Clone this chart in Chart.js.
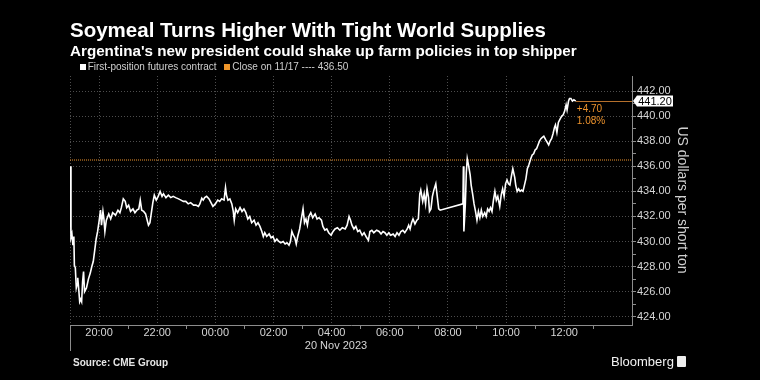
<!DOCTYPE html>
<html>
<head>
<meta charset="utf-8">
<script src="https://cdn.jsdelivr.net/npm/chart.js@4.4.0/dist/chart.umd.min.js"></script>
<style>
html,body{margin:0;padding:0;background:#000;}
#wrap{position:relative;width:760px;height:380px;background:#000;overflow:hidden;font-family:"Liberation Sans",Arial,sans-serif;}
#c{position:absolute;left:0;top:0;}
.t{position:absolute;white-space:nowrap;line-height:1;}
#title{left:70px;top:20px;font-weight:bold;font-size:20.5px;color:#fff;}
#subtitle{left:70px;top:42.6px;font-weight:bold;font-size:15.2px;color:#fff;}
.leg{top:62.3px;font-size:10px;color:#cfcfcf;}
.sq{position:absolute;width:6px;height:6px;top:64px;}
#source{left:73px;top:357.5px;font-size:10px;font-weight:bold;color:#e6e6e6;}
#bbg{left:611px;top:355px;font-size:13px;color:#f2f2f2;}
#logo{position:absolute;left:677px;top:356px;width:9px;height:11px;background:#eee;border-radius:1px;}
</style>
</head>
<body>
<div id="wrap">
<canvas id="c" width="760" height="380"></canvas>
<div class="t" id="title">Soymeal Turns Higher With Tight World Supplies</div>
<div class="t" id="subtitle">Argentina's new president could shake up farm policies in top shipper</div>
<div class="sq" style="left:80px;background:#fff;"></div>
<div class="t leg" style="left:87.7px;">First-position futures contract</div>
<div class="sq" style="left:224px;background:#f0962a;"></div>
<div class="t leg" style="left:232.3px;">Close on 11/17 ---- 436.50</div>
<div class="t" id="source">Source: CME Group</div>
<div class="t" id="bbg">Bloomberg</div>
<div id="logo"></div>
</div>
<script>
// minutes elapsed since 19:00 on 19 Nov 2023
const minutesFrom1900 = [
0,2,4,6,8,9,11,13,15,16,18,20,22,24,26,28,30,34,38,42,45,48,51,54,57,60,63,65,68,70,72,75,80,84,88,94,99,103,106,110,
114,117,121,125,130,134,138,142,145,148,152,156,160,162,165,168,171,174,178,182,186,190,193,198,203,208,213,218,224,229,
234,239,244,249,255,260,265,268,272,275,278,282,287,291,295,300,305,309,313,318,321,323,326,330,334,337,339,342,346,351,
355,359,363,367,371,375,380,384,388,392,396,399,402,406,411,415,419,423,427,431,435,440,444,448,452,455,458,461,464,467,
470,474,477,481,484,487,490,493,497,501,506,510,514,519,522,526,530,534,539,543,547,552,557,562,568,572,576,579,582,586,
590,594,598,603,607,611,616,619,623,627,633,638,642,646,650,654,658,662,667,671,675,679,683,687,691,696,699,702,705,708,
712,716,719,722,724,728,731,734,737,740,742,745,748,751,755,758,761,764,811,812,813,816,818,820,823,826,828,831,834,837,
840,843,846,849,852,856,859,862,865,868,871,874,877,880,883,887,890,893,896,899,902,905,908,911,914,918,920,923,926,929,
932,935,938,941,944,947,951,954,957,960,963,966,969,972,975,978,982,985,988,991,994,997,1000,1002,1005,1008,1012,1015,1018,1021,
1024,1026,1029,1031,1034,1037,1040,1044
];
const prices = [
436.0,430.3,430.6,429.7,430.4,428.1,427.9,426.3,426.6,427.1,426.2,425.2,425.4,425.2,426.8,427.6,426.0,426.3,427.0,427.5,428.0,428.4,429.3,430.2,430.8,431.6,432.5,431.3,432.4,431.8,430.8,431.7,432.2,431.8,432.3,432.1,432.5,432.3,432.7,433.4,
433.2,432.7,432.9,432.4,432.6,432.3,432.5,432.6,433.3,432.5,432.4,432.2,431.6,431.3,431.5,432.3,433.1,433.7,433.3,433.6,434.0,433.6,433.8,433.5,433.7,433.5,433.6,433.5,433.4,433.3,
433.2,433.2,433.0,433.1,432.9,432.9,432.8,433.0,433.45,433.3,433.5,433.6,433.4,433.1,432.8,433.0,433.3,433.2,433.4,433.3,434.3,433.7,433.3,433.4,433.0,432.4,431.7,432.6,432.3,432.7,
432.4,432.6,432.3,431.8,432.0,431.5,431.7,431.3,431.5,431.2,430.8,430.4,430.7,430.4,430.6,430.3,430.4,430.0,430.2,430.0,429.9,430.0,429.8,429.9,429.7,430.0,430.8,430.5,430.3,429.8,
430.4,431.0,431.7,432.6,431.5,431.8,431.3,432.0,432.3,431.9,432.2,431.8,431.9,431.7,431.2,430.9,431.0,430.7,430.5,430.8,431.0,431.1,430.9,431.1,431.0,431.3,432.0,431.7,431.3,431.0,
431.2,430.8,430.9,430.5,430.7,430.4,430.1,430.8,430.9,430.7,430.9,430.8,430.6,430.8,430.7,430.5,430.7,430.5,430.6,430.4,430.7,430.5,430.8,430.9,430.7,431.0,431.3,431.0,431.5,431.8,
431.4,431.7,431.8,433.8,434.1,433.2,433.8,433.0,434.2,433.5,432.4,432.6,433.6,434.1,434.6,433.6,432.6,432.5,433.0,436.0,430.8,433.0,435.5,436.6,436.0,435.3,434.5,433.8,433.0,432.4,
431.7,432.4,431.9,432.5,432.0,432.3,432.0,432.6,432.4,432.7,432.4,433.3,434.0,433.3,433.6,432.8,433.7,434.2,433.6,434.6,434.9,434.6,434.5,435.2,435.8,435.1,434.5,434.0,434.2,434.0,
434.1,434.0,434.5,435.0,435.8,436.1,436.6,436.9,437.0,437.3,437.4,437.7,438.0,438.2,438.3,438.4,438.1,437.9,437.7,438.0,438.2,438.6,439.1,439.3,438.7,439.5,439.8,440.0,440.1,440.4,
440.9,440.5,441.2,441.4,441.4,441.2,441.3,441.2
];
const previousClose = [436.5];
const xTickLabels = ['20:00','22:00','00:00','02:00','04:00','06:00','08:00','10:00','12:00'];
const yTickLabels = ['424.00','426.00','428.00','430.00','432.00','434.00','436.00','438.00','440.00','442.00'];
const dateLabel = '20 Nov 2023';
const yAxisTitle = 'US dollars per short ton';

const X_MAX = 1160;          // 14:20
const Y_MIN = 423.34, Y_MAX = 443.2;
const GRID = '#4d4d4d', AXIS = '#8c8c8c', TXT = '#d6d6d6', ORANGE = '#ec922c';

Chart.defaults.font.family = '"Liberation Sans", Arial, sans-serif';

const xTickValues = [];
for (let m = 0; m < X_MAX; m += 60) xTickValues.push(m);
const yTickValues = [];
for (let v = 424; v <= 442; v += 1) yTickValues.push(v);

const isLabeledHour = v => v >= 60 && (v - 60) % 120 === 0 && (v - 60) / 120 < xTickLabels.length;

const overlay = {
  id: 'overlay',
  afterDraw(chart) {
    const {ctx, chartArea: a, scales: {x, y}} = chart;
    ctx.save();
    // long left boundary tick
    ctx.strokeStyle = AXIS; ctx.lineWidth = 1;
    const lx0 = Math.round(a.left) + 0.5;
    ctx.beginPath(); ctx.moveTo(lx0, a.bottom); ctx.lineTo(lx0, 351); ctx.stroke();
    // date label
    ctx.fillStyle = TXT; ctx.font = '11px "Liberation Sans"';
    ctx.textAlign = 'center'; ctx.textBaseline = 'middle';
    ctx.fillText(dateLabel, 336, 346);
    // y axis title
    ctx.save();
    ctx.translate(682, 200); ctx.rotate(Math.PI / 2);
    ctx.font = '14px "Liberation Sans"'; ctx.fillStyle = '#d0d0d0';
    ctx.fillText(yAxisTitle, 0, 0);
    ctx.restore();
    // last value marker
    const n = prices.length - 1;
    const last = prices[n];
    const px = x.getPixelForValue(minutesFrom1900[n]);
    const py = y.getPixelForValue(last);
    const ry = Math.round(py) + 0.5;
    ctx.strokeStyle = '#b5702c'; ctx.lineWidth = 1;
    ctx.beginPath(); ctx.moveTo(px, ry); ctx.lineTo(a.right, ry); ctx.stroke();
    // box label on axis
    ctx.fillStyle = '#ffffff';
    ctx.beginPath();
    ctx.moveTo(a.right + 1, py);
    ctx.lineTo(a.right + 5, py - 5.5);
    ctx.lineTo(a.right + 41, py - 5.5);
    ctx.lineTo(a.right + 41, py + 5.5);
    ctx.lineTo(a.right + 5, py + 5.5);
    ctx.closePath(); ctx.fill();
    ctx.fillStyle = '#000'; ctx.font = '11px "Liberation Sans"';
    ctx.textAlign = 'center'; ctx.textBaseline = 'middle';
    ctx.fillText(last.toFixed(2), a.right + 23, py + 0.5);
    // change annotation
    const chg = last - previousClose[0];
    const pct = chg / previousClose[0] * 100;
    ctx.fillStyle = ORANGE; ctx.font = '10px "Liberation Sans"';
    ctx.textAlign = 'left';
    ctx.fillText((chg >= 0 ? '+' : '') + chg.toFixed(2), px + 1, py + 8);
    ctx.fillText(pct.toFixed(2) + '%', px + 1, py + 20.5);
    ctx.restore();
  }
};

new Chart(document.getElementById('c'), {
  type: 'line',
  data: {
    datasets: [
      {
        label: 'First-position futures contract',
        data: minutesFrom1900.map((m, i) => ({x: m, y: prices[i]})),
        borderColor: '#ffffff', borderWidth: 1.6, pointRadius: 0, tension: 0, order: 0
      },
      {
        label: 'Close on 11/17',
        data: [{x: 0, y: previousClose[0]}, {x: X_MAX, y: previousClose[0]}],
        borderColor: ORANGE, borderWidth: 1, borderDash: [1, 1], pointRadius: 0, order: 1
      }
    ]
  },
  options: {
    responsive: false,
    animation: false,
    layout: {padding: {left: 70, top: 76, right: 0, bottom: 0}},
    plugins: {legend: {display: false}, tooltip: {enabled: false}},
    scales: {
      x: {
        type: 'linear', min: 0, max: X_MAX,
        afterBuildTicks: s => { s.ticks = xTickValues.map(v => ({value: v})); },
        afterFit: s => { s.height = 55; },
        border: {display: true, color: AXIS, width: 1, dash: [1, 2]},
        grid: {
          color: c => (c.tick && (c.tick.value === 0 || isLabeledHour(c.tick.value))) ? GRID : 'rgba(0,0,0,0)',
          tickColor: c => (c.tick && c.tick.value > 0 && c.tick.value % 120 === 0) ? AXIS : 'rgba(0,0,0,0)',
          tickLength: 4, tickBorderDash: [], lineWidth: 1
        },
        ticks: {
          autoSkip: false, maxRotation: 0, padding: -3, color: TXT, font: {size: 11},
          callback: v => isLabeledHour(v) ? xTickLabels[(v - 60) / 120] : ''
        }
      },
      y: {
        position: 'right', min: Y_MIN, max: Y_MAX,
        afterBuildTicks: s => { s.ticks = yTickValues.map(v => ({value: v})); },
        afterFit: s => { s.width = 128; },
        border: {display: true, color: AXIS, width: 1, dash: [1, 2]},
        grid: {
          color: c => (c.tick && c.tick.value % 2 === 0) ? GRID : 'rgba(0,0,0,0)',
          tickColor: AXIS, tickLength: 4, tickBorderDash: [], lineWidth: 1
        },
        ticks: {
          autoSkip: false, padding: 1, color: TXT, font: {size: 11},
          callback: v => (v % 2 === 0) ? yTickLabels[(v - 424) / 2] : ''
        }
      }
    }
  },
  plugins: [overlay]
});
</script>
</body>
</html>
